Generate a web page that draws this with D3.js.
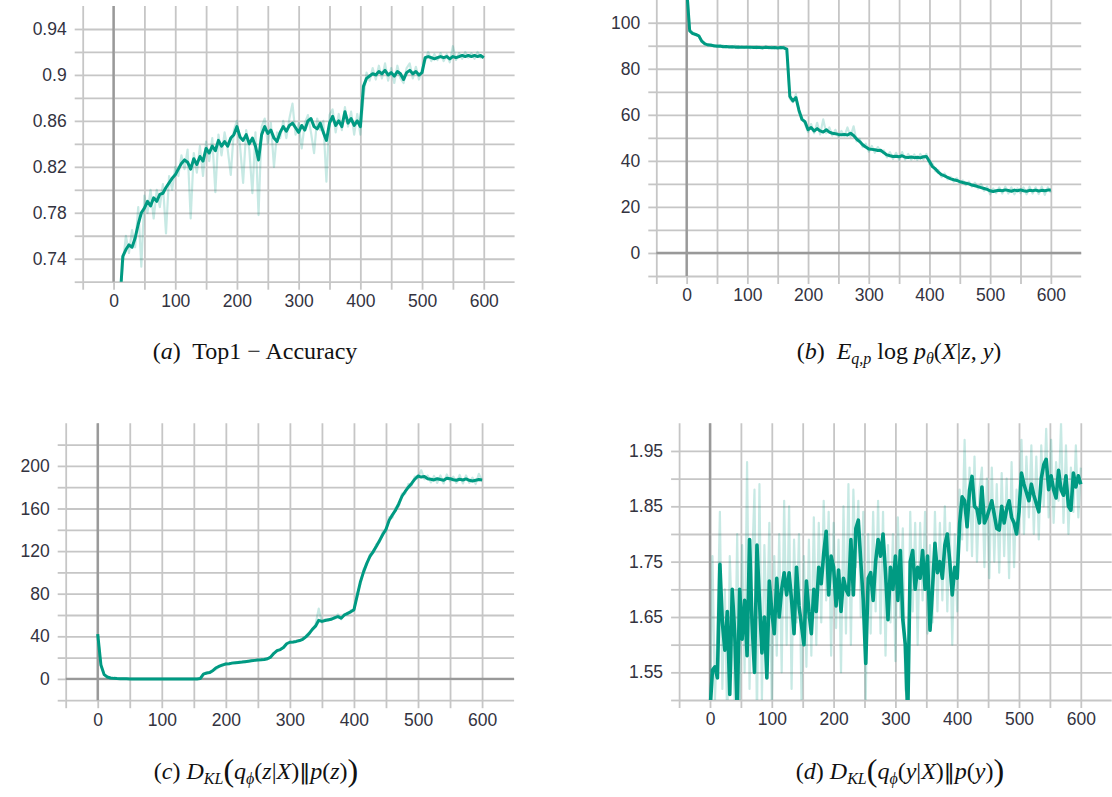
<!DOCTYPE html>
<html><head><meta charset="utf-8">
<script src="https://cdn.jsdelivr.net/npm/d3@7"></script>
<style>body{margin:0;background:#fff}</style>
</head><body>
<svg id="chart" width="1112" height="797"></svg>
<script>
// ---------- Panel (a): Top1 accuracy ----------
const accSteps = d3.range(10, 601, 5);
const accSmooth = [
0.700,0.742,0.748,0.752,0.750,0.758,0.770,0.780,0.784,0.790,
0.786,0.793,0.790,0.796,0.797,0.802,0.806,0.810,0.813,0.818,
0.823,0.826,0.824,0.818,0.827,0.822,0.829,0.825,0.836,0.832,
0.838,0.834,0.843,0.838,0.842,0.838,0.845,0.848,0.855,0.846,
0.843,0.848,0.840,0.845,0.838,0.826,0.848,0.855,0.849,0.852,
0.845,0.842,0.850,0.855,0.851,0.856,0.858,0.854,0.850,0.856,
0.852,0.860,0.862,0.855,0.853,0.858,0.850,0.843,0.858,0.864,
0.856,0.860,0.855,0.868,0.858,0.862,0.856,0.860,0.855,0.890,
0.897,0.899,0.901,0.900,0.903,0.901,0.904,0.900,0.902,0.899,
0.903,0.901,0.896,0.902,0.904,0.901,0.903,0.900,0.902,0.915,
0.916,0.915,0.914,0.915,0.916,0.915,0.916,0.914,0.916,0.915,
0.916,0.917,0.916,0.917,0.916,0.917,0.916,0.917,0.915];
const accRaw = [
0.700,0.735,0.760,0.745,0.765,0.750,0.785,0.733,0.795,0.780,
0.800,0.775,0.800,0.785,0.805,0.762,0.812,0.800,0.820,0.812,
0.830,0.818,0.835,0.775,0.832,0.815,0.838,0.812,0.842,0.825,
0.845,0.798,0.848,0.830,0.850,0.835,0.813,0.852,0.860,0.838,
0.806,0.852,0.835,0.797,0.850,0.778,0.855,0.862,0.840,0.858,
0.820,0.850,0.845,0.860,0.845,0.862,0.875,0.848,0.858,0.836,
0.858,0.865,0.850,0.832,0.862,0.852,0.860,0.807,0.865,0.870,
0.850,0.866,0.852,0.872,0.855,0.868,0.848,0.866,0.848,0.880,
0.902,0.895,0.906,0.896,0.908,0.897,0.910,0.895,0.906,0.893,
0.908,0.897,0.893,0.906,0.910,0.897,0.907,0.896,0.905,0.912,
0.920,0.912,0.918,0.913,0.919,0.912,0.918,0.911,0.925,0.913,
0.919,0.914,0.920,0.915,0.919,0.914,0.920,0.915,0.916];
const accGrid = [0.72,0.74,0.76,0.78,0.80,0.82,0.84,0.86,0.88,0.90,0.92,0.94];
const accTicks = [0.74,0.78,0.82,0.86,0.90,0.94];
const accTickLabels = ["0.74","0.78","0.82","0.86","0.9","0.94"];

// ---------- Panel (b): E log p(X|z,y) ----------
const recSteps = d3.range(0, 601, 5);
const recSmooth = [
115,96.5,95.3,94.9,94.3,92.0,90.8,90.4,90.2,90.0,
89.8,89.9,89.6,89.7,89.5,89.6,89.4,89.5,89.3,89.4,
89.3,89.4,89.2,89.3,89.2,89.1,89.3,89.2,89.1,89.2,
89.0,89.2,89.1,88.5,68.0,66.0,67.5,62.0,58.0,57.0,
53.5,54.5,53.0,54.0,53.0,52.5,53.5,52.5,52.0,51.8,
51.5,51.3,51.5,51.2,52.0,51.0,49.5,48.4,47.0,46.0,
45.2,45.0,44.8,44.5,44.6,43.5,42.6,42.2,41.9,42.0,
41.8,42.2,41.6,41.5,41.7,41.4,41.6,41.3,41.8,41.9,
39.8,37.5,36.5,35.0,34.0,33.5,32.8,32.2,31.8,31.5,
31.0,30.6,30.3,30.0,29.5,29.2,28.8,28.4,28.0,27.6,
27.0,26.7,27.0,27.2,27.0,27.4,27.1,26.8,27.3,27.0,
27.4,27.0,26.8,27.2,27.0,27.3,26.9,27.2,27.0,27.3,
27.4];
const recRaw = [
118,97.0,95.8,94.5,94.0,91.5,91.2,90.0,90.8,89.6,
90.3,89.5,90.2,89.3,90.0,89.2,90.1,89.0,89.8,89.1,
89.8,88.9,89.7,88.9,89.6,88.8,89.9,88.8,89.6,88.9,
89.5,88.8,89.6,87.5,67.0,65.5,69.0,61.0,59.0,56.0,
52.5,56.0,52.0,56.5,51.5,58.0,52.0,54.5,51.0,53.5,
50.5,53.0,50.8,54.5,50.5,55.0,48.5,49.5,46.0,47.5,
44.0,46.5,43.5,46.0,43.8,44.5,41.5,43.8,40.8,43.5,
40.5,43.8,40.6,43.0,40.5,42.8,40.4,43.0,40.6,43.0,
38.5,38.8,35.5,36.0,33.0,34.5,32.0,33.0,31.0,32.5,
30.2,31.5,29.5,31.0,28.8,30.5,28.0,30.0,27.0,28.8,
25.5,28.0,26.0,28.5,25.8,28.8,25.8,28.5,25.5,28.0,
26.0,28.5,25.5,28.8,25.8,28.5,25.6,28.8,25.2,28.5,
26.2];
const recGrid = [-10,0,10,20,30,40,50,60,70,80,90,100];
const recTicks = [0,20,40,60,80,100];
const recTickLabels = ["0","20","40","60","80","100"];

// ---------- Panel (c): KL(q(z|X)||p(z)) ----------
const klzSteps = d3.range(0, 601, 5);
const klzSmooth = [
42.0,13.0,4.0,1.8,0.9,0.5,0.3,0.2,0.1,0.1,
0,0,0,0,0,0,0,0,0,0,
0,0,0,0,0,0,0,0,0,0,
0,0,0.3,4.5,5.5,6.0,8.0,10.5,12.0,13.2,
14.0,14.3,14.8,15.2,15.5,15.8,16.2,16.6,17.0,17.4,
17.8,18.0,18.3,18.9,20.5,24.0,26.6,27.5,29.5,33.0,
34.4,34.6,35.2,36.0,37.2,39.5,42.5,46.5,49.5,55.0,
54.0,54.8,55.5,56.0,57.5,58.5,57.0,60.0,61.5,63.0,
65.0,78.0,91.0,100.5,108.5,115.0,119.5,124.5,130.0,135.5,
140.5,149.0,154.0,158.5,164.5,171.5,176.0,180.0,183.5,187.5,
190.5,189.5,190.0,188.0,187.5,186.8,188.0,187.2,186.5,188.5,
188.0,187.0,186.5,187.5,186.8,187.8,186.5,185.8,186.5,187.2,
186.8];
const klzRaw = [
42.0,12.5,4.2,1.6,1.0,0.4,0.4,0.1,0.2,0,
0,0,0,0,0,0,0,0,0,0,
0,0,0,0,0,0,0,0,0,0,
0,0,0.3,5.0,5.0,6.8,7.5,9.0,11.8,12.0,
15.0,13.8,15.5,14.8,16.2,15.4,16.8,16.2,17.6,17.0,
18.4,17.6,18.8,18.5,21.0,23.5,27.2,27.0,30.5,33.5,
35.0,34.0,36.0,35.5,38.0,40.5,43.5,46.0,51.0,66.0,
53.0,56.0,54.5,57.5,56.5,60.5,56.0,61.0,60.0,64.5,
64.0,80.0,89.0,103.0,107.0,117.0,118.0,126.5,128.5,138.0,
138.5,152.0,151.5,161.0,162.0,174.0,174.0,183.0,181.5,190.0,
188.5,196.0,187.5,191.0,184.5,190.5,184.0,191.0,183.5,192.0,
185.5,190.0,184.0,191.5,183.5,191.0,184.0,189.0,183.0,192.5,
186.0];
const klzGrid = [-20,0,20,40,60,80,100,120,140,160,180,200,220];
const klzTicks = [0,40,80,120,160,200];
const klzTickLabels = ["0","40","80","120","160","200"];

// ---------- Panel (d): KL(q(y|X)||p(y)) ----------
const klySteps = d3.range(0, 601, 4);
const klySmooth = [
1.48,1.554,1.56,1.54,1.745,1.64,1.59,1.66,1.51,1.70,
1.62,1.48,1.70,1.61,1.68,1.58,1.79,1.64,1.55,1.78,
1.68,1.585,1.65,1.54,1.715,1.66,1.62,1.72,1.65,1.70,
1.73,1.69,1.73,1.68,1.62,1.74,1.67,1.635,1.60,1.715,
1.66,1.62,1.70,1.66,1.74,1.71,1.765,1.805,1.69,1.76,
1.74,1.67,1.735,1.66,1.72,1.70,1.69,1.79,1.69,1.81,
1.825,1.75,1.68,1.566,1.72,1.73,1.68,1.75,1.79,1.76,
1.80,1.73,1.645,1.74,1.70,1.76,1.68,1.77,1.645,1.60,
1.47,1.75,1.77,1.70,1.74,1.72,1.77,1.70,1.76,1.626,
1.70,1.783,1.73,1.75,1.72,1.78,1.80,1.75,1.69,1.74,
1.72,1.82,1.867,1.86,1.813,1.88,1.904,1.85,1.845,1.82,
1.885,1.82,1.83,1.845,1.86,1.835,1.81,1.807,1.85,1.82,
1.845,1.86,1.83,1.82,1.80,1.84,1.91,1.89,1.875,1.86,
1.89,1.87,1.855,1.84,1.90,1.925,1.935,1.88,1.905,1.88,
1.865,1.915,1.88,1.87,1.905,1.85,1.843,1.91,1.885,1.905,
1.89];
const klyRaw = [
1.45,1.76,1.50,1.62,1.84,1.52,1.70,1.45,1.76,1.62,
1.50,1.80,1.48,1.78,1.55,1.93,1.52,1.74,1.88,1.46,
1.89,1.50,1.78,1.62,1.82,1.48,1.76,1.58,1.80,1.55,
1.86,1.60,1.85,1.52,1.79,1.64,1.80,1.50,1.76,1.56,
1.79,1.58,1.83,1.60,1.82,1.64,1.86,1.68,1.84,1.58,
1.82,1.63,1.79,1.55,1.85,1.62,1.89,1.60,1.88,1.74,
1.86,1.65,1.84,1.50,1.80,1.62,1.84,1.66,1.86,1.62,
1.84,1.58,1.78,1.64,1.80,1.57,1.83,1.65,1.81,1.52,
1.50,1.84,1.66,1.82,1.60,1.82,1.68,1.84,1.62,1.78,
1.64,1.84,1.66,1.82,1.68,1.85,1.66,1.82,1.60,1.80,
1.66,1.88,1.79,1.97,1.77,1.92,1.76,1.94,1.75,1.88,
1.92,1.74,1.90,1.72,1.92,1.75,1.89,1.73,1.91,1.76,
1.90,1.72,1.93,1.74,1.88,1.80,1.97,1.80,1.94,1.83,
1.96,1.80,1.94,1.79,1.96,1.85,1.99,1.83,1.97,1.82,
1.93,1.86,2.00,1.82,1.96,1.80,1.92,1.84,1.96,1.83,
1.92];
const klyGrid = [1.50,1.55,1.60,1.65,1.70,1.75,1.80,1.85,1.90,1.95];
const klyTicks = [1.55,1.65,1.75,1.85,1.95];
const klyTickLabels = ["1.55","1.65","1.75","1.85","1.95"];

// shared x axis
const xGrid = [-50,0,50,100,150,200,250,300,350,400,450,500,550,600];
const xTicks = [0,100,200,300,400,500,600];
const xTickLabels = ["0","100","200","300","400","500","600"];
const xDomain = [-50, 650];

// captions (flags: i italic, s subscript, b big, n norm-symbol font)
const capA = [["(",""],["a","i"],[")  Top1 − Accuracy",""]];
const capB = [["(",""],["b","i"],[")  ",""],["E","i"],["q,p","is"],[" log ",""],["p","i"],["θ","is"],["(",""],["X","i"],["|",""],["z","i"],[", ",""],["y","i"],[")",""]];
const capC = [["(",""],["c","i"],[") ",""],["D","i"],["KL","is"],["(","b"],["q","i"],["ϕ","is"],["(",""],["z","i"],["|",""],["X","i"],[")",""],["‖","n"],["p","i"],["(",""],["z","i"],[")",""],[")","b"]];
const capD = [["(",""],["d","i"],[") ",""],["D","i"],["KL","is"],["(","b"],["q","i"],["ϕ","is"],["(",""],["y","i"],["|",""],["X","i"],[")",""],["‖","n"],["p","i"],["(",""],["y","i"],[")",""],[")","b"]];

const panels = [
 {id:"a", steps:accSteps, smooth:accSmooth, raw:accRaw, yDomain:[0.72,0.96], grid:accGrid, ticks:accTicks, labels:accTickLabels,
  box:{l:82.7,r:514.6,t:6,b:281.7}, zeroY:false, cap:capA, capX:255, capY:359, sw:3},
 {id:"b", steps:recSteps, smooth:recSmooth, raw:recRaw, yDomain:[-10,110], grid:recGrid, ticks:recTicks, labels:recTickLabels,
  box:{l:656.3,r:1081.2,t:-0.3,b:276}, zeroY:true, cap:capB, capX:899, capY:359, sw:3},
 {id:"c", steps:klzSteps, smooth:klzSmooth, raw:klzRaw, yDomain:[-20,240], grid:klzGrid, ticks:klzTicks, labels:klzTickLabels,
  box:{l:65.7,r:514.1,t:423.3,b:700.2}, zeroY:true, cap:capC, capX:256, capY:779, sw:3},
 {id:"d", steps:klySteps, smooth:klySmooth, raw:klyRaw, yDomain:[1.5,2.0], grid:klyGrid, ticks:klyTicks, labels:klyTickLabels,
  box:{l:679.1,r:1111.7,t:423.3,b:700}, zeroY:false, cap:capD, capX:900, capY:779, sw:3.6}
];

const svg = d3.select("#chart");
const LINE = "#009a82";
const GRID = "#c6c6c6";
const ZERO = "#999999";
const TXT = "#33333f";

panels.forEach(p => {
  const B = p.box, W = B.r - B.l, H = B.b - B.t;
  const x = d3.scaleLinear().domain(xDomain).range([0, W]);
  const y = d3.scaleLinear().domain(p.yDomain).range([H, 0]);
  const g = svg.append("g").attr("transform", `translate(${B.l},${B.t})`);

  // horizontal grid
  const gy = g.append("g").call(d3.axisLeft(y).tickValues(p.grid).tickSize(-W).tickFormat(""));
  gy.select(".domain").remove();
  gy.selectAll("line").attr("stroke", GRID).attr("stroke-width", 1.8);
  // left tick marks
  const gyt = g.append("g").call(d3.axisLeft(y).tickValues(p.grid).tickSize(8).tickFormat(""));
  gyt.select(".domain").remove();
  gyt.selectAll("line").attr("stroke", GRID).attr("stroke-width", 1.8);
  // vertical grid
  const gx = g.append("g").attr("transform", `translate(0,${H})`)
    .call(d3.axisBottom(x).tickValues(xGrid).tickSize(-H).tickFormat(""));
  gx.select(".domain").remove();
  gx.selectAll("line").attr("stroke", GRID).attr("stroke-width", 1.8);
  const gxt = g.append("g").attr("transform", `translate(0,${H})`)
    .call(d3.axisBottom(x).tickValues(xGrid).tickSize(8).tickFormat(""));
  gxt.select(".domain").remove();
  gxt.selectAll("line").attr("stroke", GRID).attr("stroke-width", 1.8);

  // zero lines
  g.append("line").attr("x1", x(0)).attr("x2", x(0)).attr("y1", 0).attr("y2", H)
    .attr("stroke", ZERO).attr("stroke-width", 2.4);
  if (p.zeroY) {
    g.append("line").attr("x1", 0).attr("x2", W).attr("y1", y(0)).attr("y2", y(0))
      .attr("stroke", ZERO).attr("stroke-width", 2.4);
  }

  // labels
  const ly = g.append("g").call(d3.axisLeft(y).tickValues(p.ticks).tickSize(0).tickPadding(16)
      .tickFormat((d, i) => p.labels[i]));
  ly.select(".domain").remove();
  ly.selectAll("text").attr("font-family", "'Liberation Sans', Arial, sans-serif")
    .attr("font-size", 17.5).attr("fill", TXT);
  const lx = g.append("g").attr("transform", `translate(0,${H})`)
    .call(d3.axisBottom(x).tickValues(xTicks).tickSize(0).tickPadding(13)
      .tickFormat((d, i) => xTickLabels[i]));
  lx.select(".domain").remove();
  lx.selectAll("text").attr("font-family", "'Liberation Sans', Arial, sans-serif")
    .attr("font-size", 17.5).attr("fill", TXT);

  // clip
  const cid = "clip-" + p.id;
  g.append("clipPath").attr("id", cid).append("rect").attr("x", 0).attr("y", 0).attr("width", W).attr("height", H);
  const lineGen = d3.line().x((d, i) => x(p.steps[i])).y(d => y(d));
  const lg = g.append("g").attr("clip-path", `url(#${cid})`);
  lg.append("path").datum(p.raw).attr("d", lineGen).attr("fill", "none")
    .attr("stroke", LINE).attr("stroke-opacity", 0.22).attr("stroke-width", 2.2).attr("stroke-linejoin", "round");
  lg.append("path").datum(p.smooth).attr("d", lineGen).attr("fill", "none")
    .attr("stroke", LINE).attr("stroke-width", p.sw).attr("stroke-linejoin", "round");

  // caption
  const t = svg.append("text").attr("x", p.capX).attr("y", p.capY).attr("text-anchor", "middle")
    .attr("font-family", "'Liberation Serif', 'DejaVu Serif', serif").attr("font-size", 24)
    .attr("fill", "#111").style("white-space", "pre");
  let cur = 0;
  p.cap.forEach(([txt, st]) => {
    const sub = st.includes("s"), big = st.includes("b");
    const shift = sub ? 5 : (big ? 2 : 0);
    const ts = t.append("tspan").text(txt).attr("dy", shift - cur);
    cur = shift;
    if (st.includes("i")) ts.attr("font-style", "italic");
    if (sub) ts.attr("font-size", 16);
    if (big) ts.attr("font-size", 32);
    if (st.includes("n")) ts.attr("font-family", "'DejaVu Sans', sans-serif").attr("font-size", 22);
  });
});
</script>
</body></html>
